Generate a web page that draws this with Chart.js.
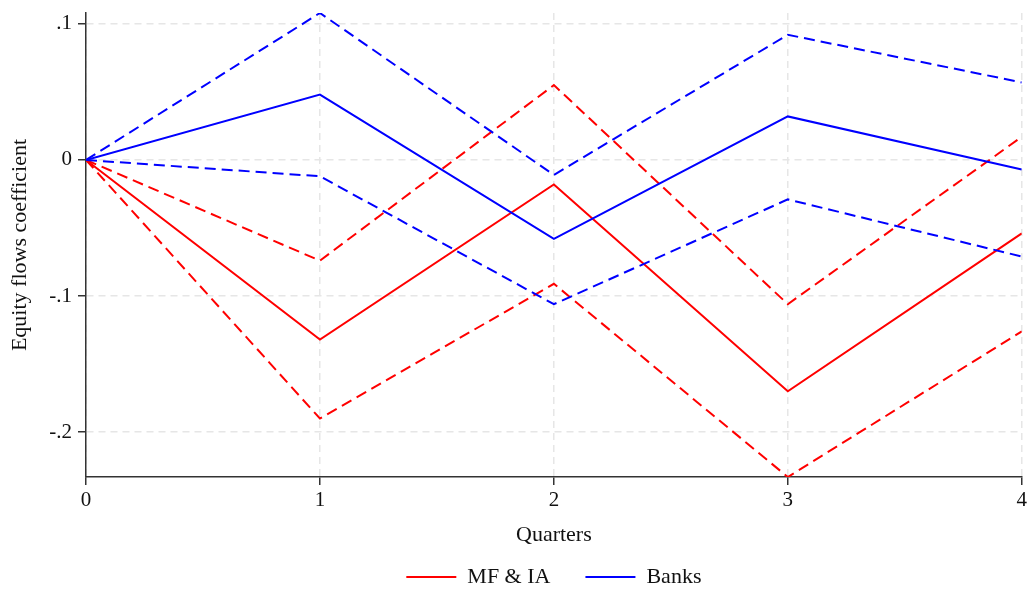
<!DOCTYPE html>
<html>
<head>
<meta charset="utf-8">
<script src="https://cdn.jsdelivr.net/npm/chart.js@4.4.0/dist/chart.umd.min.js"></script>
<style>
  html, body { margin: 0; padding: 0; background: #ffffff; }
  #wrap { width: 1032px; height: 591px; }
</style>
</head>
<body>
<div id="wrap"><canvas id="c" width="1032" height="591"></canvas></div>
<script>
// ---- Data ----
const quarters = [0, 1, 2, 3, 4];
const xTickLabels = ['0', '1', '2', '3', '4'];
const yTickValues = [-0.2, -0.1, 0, 0.1];
const yTickLabels = ['-.2', '-.1', '0', '.1'];

const mfCoef  = [0, -0.132, -0.018, -0.170, -0.054];
const mfUpper = [0, -0.074,  0.055, -0.106,  0.017];
const mfLower = [0, -0.190, -0.091, -0.233, -0.126];

const bankCoef  = [0,  0.048, -0.058,  0.032, -0.007];
const bankUpper = [0,  0.108, -0.011,  0.092,  0.057];
const bankLower = [0, -0.012, -0.106, -0.029, -0.071];

const seriesNames = ['MF & IA', 'Banks'];

// ---- Styling ----
const RED = '#ff0000';
const BLUE = '#0000ff';
const TEXT = '#111111';
const AXIS = '#333333';
const GRID = '#e6e6e6';
const FONT = "'Liberation Serif', 'Times New Roman', serif";

function pts(arr) { return quarters.map((q, i) => ({ x: q, y: arr[i] })); }

function ds(label, arr, color, dashed) {
  return {
    label: label,
    data: pts(arr),
    borderColor: color,
    backgroundColor: color,
    borderWidth: 2,
    borderDash: dashed ? [11, 6] : [],
    pointRadius: 0,
    pointHoverRadius: 0,
    tension: 0,
    fill: false
  };
}

const datasets = [
  ds(seriesNames[1], bankCoef, BLUE, false),
  ds(seriesNames[1] + ' upper', bankUpper, BLUE, true),
  ds(seriesNames[1] + ' lower', bankLower, BLUE, true),
  ds(seriesNames[0], mfCoef, RED, false),
  ds(seriesNames[0] + ' upper', mfUpper, RED, true),
  ds(seriesNames[0] + ' lower', mfLower, RED, true)
];

Chart.defaults.font.family = FONT;
Chart.defaults.color = TEXT;

new Chart(document.getElementById('c'), {
  type: 'line',
  data: { datasets: datasets },
  options: {
    responsive: false,
    animation: false,
    events: [],
    layout: { padding: { left: 0, right: 10, top: 13, bottom: -7 } },
    scales: {
      x: {
        type: 'linear',
        min: 0,
        max: 4,
        afterBuildTicks: (s) => { s.ticks = quarters.map(v => ({ value: v })); },
        afterFit: (s) => { s.height = 54; },
        ticks: {
          callback: (v) => xTickLabels[quarters.indexOf(v)],
          font: { size: 21, lineHeight: 1 },
          color: TEXT,
          padding: 5,
          maxRotation: 0,
          autoSkip: false
        },
        grid: {
          color: GRID,
          lineWidth: 1.5,
          drawTicks: true,
          tickLength: 8,
          tickColor: AXIS,
          tickWidth: 1.5,
          tickBorderDash: []
        },
        border: { display: true, color: AXIS, width: 1.5, dash: [7, 5] },
        title: {
          display: true,
          text: 'Quarters',
          font: { size: 22, lineHeight: 1 },
          color: TEXT,
          padding: { top: 0, bottom: -15 }
        }
      },
      y: {
        type: 'linear',
        min: -0.233,
        max: 0.108,
        afterBuildTicks: (s) => { s.ticks = yTickValues.map(v => ({ value: v })); },
        afterFit: (s) => { s.width = 86; },
        ticks: {
          callback: (v) => {
            const i = yTickValues.findIndex(t => Math.abs(t - v) < 1e-9);
            return i >= 0 ? yTickLabels[i] : '';
          },
          font: { size: 21, lineHeight: 0.5 },
          color: TEXT,
          padding: 6
        },
        grid: {
          color: GRID,
          lineWidth: 1.5,
          drawTicks: true,
          tickLength: 8,
          tickColor: AXIS,
          tickWidth: 1.5,
          tickBorderDash: []
        },
        border: { display: true, color: AXIS, width: 1.5, dash: [7, 5] },
        title: {
          display: true,
          text: 'Equity flows coefficient',
          font: { size: 22, lineHeight: 1 },
          color: TEXT,
          padding: { top: 9, bottom: 0 }
        }
      }
    },
    plugins: {
      tooltip: { enabled: false },
      legend: {
        display: true,
        position: 'bottom',
        fullSize: false,
        align: 'center',
        labels: {
          boxWidth: 50,
          boxHeight: 2,
          padding: 35,
          color: TEXT,
          font: { size: 22 },
          generateLabels: () => [
            { text: seriesNames[0], fillStyle: RED, strokeStyle: RED, lineWidth: 0, hidden: false, fontColor: TEXT },
            { text: seriesNames[1], fillStyle: BLUE, strokeStyle: BLUE, lineWidth: 0, hidden: false, fontColor: TEXT }
          ]
        }
      }
    }
  }
});
</script>
</body>
</html>
